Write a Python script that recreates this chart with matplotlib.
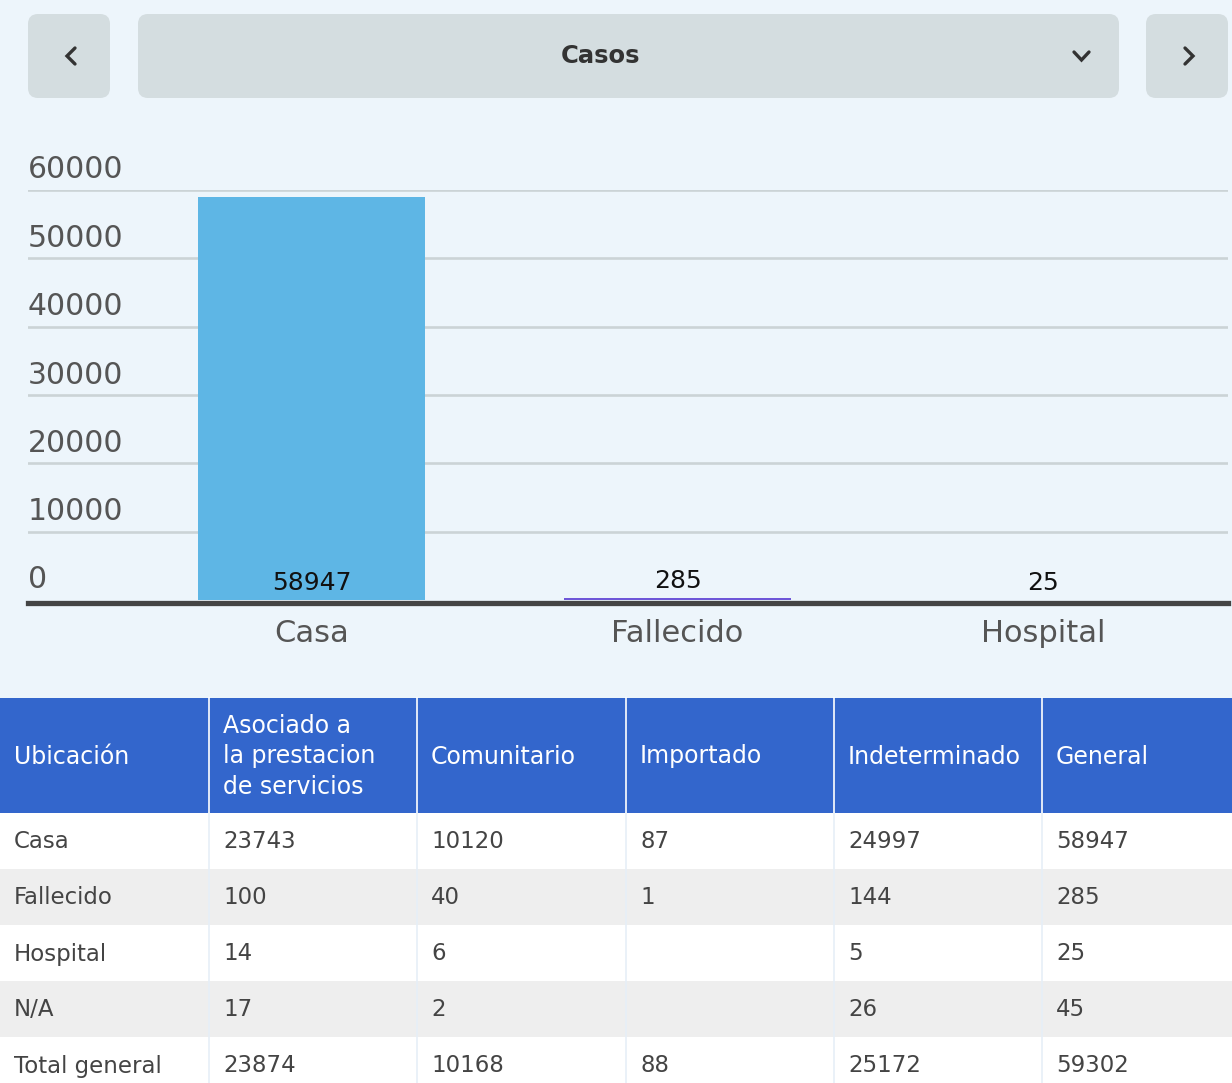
import matplotlib
matplotlib.use("Agg")
import matplotlib.pyplot as plt
import matplotlib.transforms as mtransforms
from matplotlib.patches import FancyBboxPatch, Rectangle

# chart data
categories = ["Casa", "Fallecido", "Hospital"]
totals = [58947, 285, 25]
bar_colors = ["#5EB6E5", "#6E56D8", "#E8A33A"]
y_ticks = [0, 10000, 20000, 30000, 40000, 50000, 60000]

# table data
headers = ["Ubicación", "Asociado a\nla prestacion\nde servicios", "Comunitario",
           "Importado", "Indeterminado", "General"]
row_names = ["Casa", "Fallecido", "Hospital", "N/A", "Total general"]
asociado = ["23743", "100", "14", "17", "23874"]
comunitario = ["10120", "40", "6", "2", "10168"]
importado = ["87", "1", "", "", "88"]
indeterminado = ["24997", "144", "5", "26", "25172"]
general = ["58947", "285", "25", "45", "59302"]

W, H = 1232, 1083
fig = plt.figure(figsize=(W / 100, H / 100), dpi=100)
fig.patch.set_facecolor("#EDF5FB")

# background axes in pixel coords (y down)
bg = fig.add_axes([0, 0, 1, 1])
bg.set_xlim(0, W)
bg.set_ylim(H, 0)
bg.axis("off")

# top buttons
for x0, x1 in [(28, 110), (138, 1119), (1146, 1228)]:
    bg.add_patch(FancyBboxPatch((x0, 14), x1 - x0, 84,
                                boxstyle="round,pad=0,rounding_size=10",
                                fc="#D4DDE0", ec="none"))
bg.text(601, 56, "Casos", ha="center", va="center", fontsize=17.5,
        fontweight="bold", color="#333333")
bg.plot([75, 67, 75], [48, 56, 64], color="#333333", lw=2.4,
        solid_capstyle="round", solid_joinstyle="miter")
bg.plot([1185, 1193, 1185], [48, 56, 64], color="#333333", lw=2.4,
        solid_capstyle="round", solid_joinstyle="miter")
bg.plot([1074, 1081.5, 1089], [52, 60, 52], color="#333333", lw=2.4,
        solid_capstyle="round", solid_joinstyle="miter")

# bar chart
ax = fig.add_axes([28 / W, (H - 600) / H, 1200 / W, (600 - 190) / H])
ax.set_facecolor("none")
ax.set_xlim(-0.776, 2.505)
ax.set_ylim(0, 60000)
for s in ax.spines.values():
    s.set_visible(False)
ax.set_xticks([])
ax.set_yticks([])

for v in y_ticks[1:]:
    ax.axhline(v, color="#CBD3D6", lw=1.9, zorder=1)

ytr = ax.get_yaxis_transform()
# baseline sits just under the zero level
shift = mtransforms.ScaledTranslation(0, -3.2 / 100, fig.dpi_scale_trans)
ax.plot([0, 1], [0, 0], color="#444444", lw=3.8, zorder=2, clip_on=False,
        transform=ytr + shift)

x = list(range(len(categories)))
ax.bar(x, totals, width=0.62, color=bar_colors, zorder=3, clip_on=False)

for v in y_ticks:
    ax.annotate(str(v), (0, v), xycoords=ytr, xytext=(0, 20),
                textcoords="offset pixels", ha="left", va="center",
                fontsize=21.5, color="#555555")

xtr = ax.get_xaxis_transform()
for i, c in enumerate(categories):
    ax.annotate(c, (i, 0), xycoords=xtr, xytext=(0, -33),
                textcoords="offset pixels", ha="center", va="center",
                fontsize=22, color="#555555")

for i, v in enumerate(totals):
    base = v if v < 1000 else 0
    ax.annotate(str(v), (i, base), xytext=(0, 17), textcoords="offset pixels",
                ha="center", va="center", fontsize=18, color="#111111",
                zorder=4)

# table
col_left = [0, 209, 417, 626, 834, 1042]
head_top, head_bot = 698, 813
row_h = 56
bg.add_patch(Rectangle((0, head_top), W, head_bot - head_top, fc="#3366CC", ec="none"))
for j, h in enumerate(headers):
    bg.text(col_left[j] + 14, (head_top + head_bot) / 2 + 1, h, ha="left",
            va="center", fontsize=17, color="white", linespacing=1.32)

columns = [row_names, asociado, comunitario, importado, indeterminado, general]
for r in range(len(row_names)):
    top = head_bot + r * row_h
    fc = "white" if r % 2 == 0 else "#EEEEEE"
    bg.add_patch(Rectangle((0, top), W, row_h, fc=fc, ec="none"))
    for j in range(len(columns)):
        bg.text(col_left[j] + 14, top + row_h / 2 + 1, columns[j][r], ha="left",
                va="center", fontsize=16.5, color="#444444")

for xl in col_left[1:]:
    bg.plot([xl, xl], [head_top, head_bot], color="white", lw=1.2)
    bg.plot([xl, xl], [head_bot, H], color="#E6EFF7", lw=1.2)

fig.savefig("out.png", dpi=100, facecolor=fig.get_facecolor())
